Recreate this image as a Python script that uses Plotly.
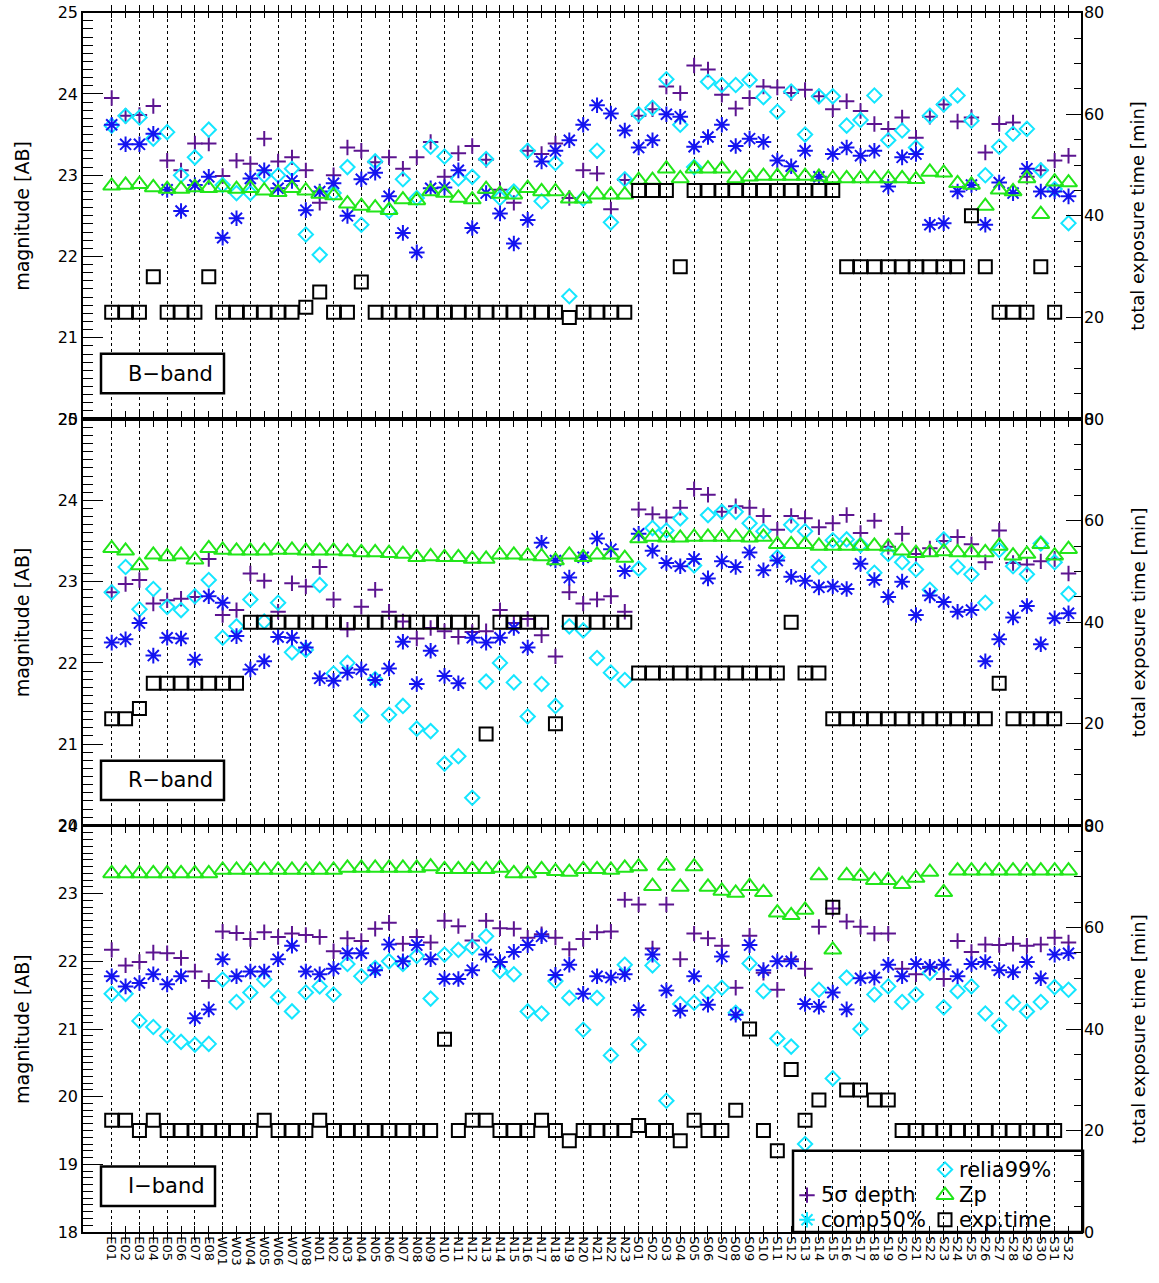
import plotly.graph_objects as go

# ---------------- data ----------------
FIELDS = ["E01", "E02", "E03", "E04", "E05", "E06", "E07", "E08",
          "W01", "W03", "W04", "W05", "W06", "W07", "W08",
          "N01", "N02", "N03", "N04", "N05", "N06", "N07", "N08", "N09", "N10",
          "N11", "N12", "N13", "N14", "N15", "N16", "N17", "N18", "N19", "N20",
          "N21", "N22", "N23",
          "S01", "S02", "S03", "S04", "S05", "S06", "S07", "S08", "S09", "S10",
          "S11", "S12", "S13", "S14", "S15", "S16", "S17", "S18", "S19", "S20",
          "S21", "S22", "S23", "S24", "S25", "S26", "S27", "S28", "S29", "S30",
          "S31", "S32"]

# B-band
B_DEPTH = [23.95, 23.73, 23.74, 23.85, 23.18, 23.06, 23.39, 23.39, 22.99, 23.18, 23.14, 23.45, 23.17, 23.22, 23.06, 22.66, 23.00, 23.34, 23.30, 23.16, 23.22, 23.08, 23.22,
           23.41, 22.98, 23.27, 23.36, 23.19, 22.82, 22.66, 23.30, 23.26, 23.39, 22.72, 23.06, 23.02, 22.58, 22.94, 23.73, 23.81, 24.09, 24.01, 24.35, 24.30, 23.99, 23.82, 23.95,
           24.09, 24.08, 24.01, 24.05, 23.97, 23.81, 23.91, 23.79, 23.63, 23.57, 23.71, 23.46, 23.72, 23.87, 23.66, 23.71, 23.28, 23.63, 23.65, 22.98, 23.06, 23.18, 23.24]
B_COMP = [23.62, 23.38, 23.38, 23.51, 22.82, 22.56, 22.88, 22.98, 22.23, 22.47, 22.96, 23.06, 22.84, 22.93, 22.57, 22.80, 22.90, 22.50, 22.95, 23.03, 22.74, 22.29, 22.05,
          22.84, 22.85, 23.06, 22.35, 22.78, 22.53, 22.16, 22.45, 23.17, 23.30, 23.43, 23.62, 23.86, 23.76, 23.55, 23.34, 23.43, 23.75, 23.72, 23.35, 23.47, 23.62, 23.36, 23.45,
          23.41, 23.18, 23.11, 23.30, 22.98, 23.26, 23.34, 23.24, 23.30, 22.86, 23.22, 23.26, 22.39, 22.41, 22.80, 22.88, 22.39, 22.91, 22.78, 23.08, 22.80, 22.80, 22.74]
B_RELIA = [23.61, 23.73, 23.71, 23.45, 23.53, 23.00, 23.22, 23.56, 22.88, 22.78, 22.78, 23.00, 23.00, 23.08, 22.27, 22.02, 22.78, 23.10, 22.39, 23.17, 22.56, 22.95, 22.72,
           23.35, 23.23, 22.96, 22.98, 23.20, 22.72, 22.80, 23.30, 22.68, 23.15, 21.51, 22.71, 23.30, 22.42, 22.95, 23.75, 23.83, 24.18, 23.62, 23.10, 24.15, 24.11, 24.11, 24.17,
           23.96, 23.78, 24.03, 23.50, 23.97, 23.97, 23.61, 23.68, 23.98, 23.43, 23.55, 23.34, 23.73, 23.87, 23.98, 23.67, 23.00, 23.35, 23.51, 23.57, 23.06, 22.83, 22.41]
B_ZP = [22.87, 22.88, 22.89, 22.85, 22.83, 22.83, 22.85, 22.84, 22.85, 22.83, 22.84, 22.81, 22.79, 22.84, 22.81, 22.77, 22.75, 22.65, 22.62, 22.60, 22.57, 22.70, 22.69,
        22.80, 22.78, 22.72, 22.70, 22.83, 22.77, 22.76, 22.84, 22.80, 22.80, 22.71, 22.71, 22.76, 22.76, 22.76, 22.94, 22.94, 23.08, 22.96, 23.08, 23.08, 23.08, 22.96, 22.98,
        22.99, 22.99, 22.99, 22.99, 22.98, 22.96, 22.96, 22.96, 22.96, 22.96, 22.96, 22.95, 23.04, 23.03, 22.90, 22.88, 22.62, 22.82, 22.80, 22.96, 22.52, 22.92, 22.91]
B_EXP = [21, 21, 21, 28, 21, 21, 21, 28, 21, 21, 21, 21, 21, 21, 22, 25, 21, 21, 27, 21, 21, 21, 21,
         21, 21, 21, 21, 21, 21, 21, 21, 21, 21, 20, 21, 21, 21, 21, 45, 45, 45, 30, 45, 45, 45, 45, 45,
         45, 45, 45, 45, 45, 45, 30, 30, 30, 30, 30, 30, 30, 30, 30, 40, 30, 21, 21, 21, 30, 21, None]

# R-band
R_DEPTH = [22.87, 22.97, 23.02, 22.73, 22.77, 22.79, 22.81, 23.28, 22.59, 22.65, 23.10, 23.01, 22.63, 22.98, 22.94, 23.18, 22.78, 22.41, 22.69, 22.90, 22.63, 22.51, 22.30,
           22.43, 22.39, 22.32, 22.38, 22.39, 22.65, 22.49, 22.54, 22.34, 22.08, 22.87, 22.73, 22.78, 22.82, 22.63, 23.89, 23.83, 23.79, 23.91, 24.14, 24.07, 23.86, 23.93, 23.91,
           23.81, 23.64, 23.81, 23.78, 23.67, 23.72, 23.82, 23.60, 23.75, 23.43, 23.59, 23.34, 23.41, 23.50, 23.55, 23.46, 23.24, 23.63, 23.23, 23.21, 23.25, 23.28, 23.10]
R_COMP = [22.25, 22.29, 22.49, 22.09, 22.31, 22.30, 22.04, 22.82, 22.74, 22.33, 21.92, 22.02, 22.32, 22.31, 22.19, 21.81, 21.78, 21.88, 21.92, 21.79, 21.93, 22.26, 21.74,
          22.15, 21.84, 21.75, 22.31, 22.25, 22.31, 22.43, 22.19, 23.48, 23.26, 23.05, 23.30, 23.53, 23.40, 23.13, 23.59, 23.38, 23.23, 23.19, 23.28, 23.04, 23.25, 23.18, 23.36,
          23.14, 23.26, 23.06, 23.01, 22.93, 22.94, 22.91, 23.22, 23.02, 22.81, 23.00, 22.59, 22.83, 22.75, 22.63, 22.65, 22.02, 22.29, 22.56, 22.70, 22.23, 22.55, 22.61]
R_RELIA = [22.87, 23.18, 22.66, 22.91, 22.69, 22.65, 22.82, 23.02, 22.31, 22.45, 22.78, 22.51, 22.74, 22.13, 22.16, 22.96, 21.87, 22.00, 21.35, 21.80, 21.36, 21.47, 21.19,
           21.16, 20.76, 20.85, 20.34, 21.77, 22.00, 21.76, 21.34, 21.74, 21.47, 22.45, 22.40, 22.06, 21.88, 21.79, 23.16, 23.66, 23.63, 23.78, 23.20, 23.82, 23.86, 23.86, 23.72,
           23.62, 23.30, 23.70, 23.62, 23.18, 23.51, 23.52, 23.45, 23.11, 23.34, 23.24, 23.15, 22.90, 23.52, 23.18, 23.09, 22.74, 23.39, 23.19, 23.09, 23.47, 23.24, 22.85]
R_ZP = [23.41, 23.38, 23.20, 23.33, 23.31, 23.33, 23.27, 23.41, 23.39, 23.38, 23.38, 23.38, 23.39, 23.39, 23.38, 23.38, 23.38, 23.37, 23.36, 23.36, 23.35, 23.34, 23.30,
        23.31, 23.30, 23.30, 23.28, 23.28, 23.33, 23.33, 23.32, 23.31, 23.26, 23.33, 23.30, 23.33, 23.33, 23.29, 23.53, 23.55, 23.54, 23.54, 23.55, 23.55, 23.55, 23.55, 23.54,
        23.55, 23.46, 23.46, 23.46, 23.44, 23.44, 23.44, 23.44, 23.44, 23.43, 23.38, 23.35, 23.36, 23.37, 23.36, 23.36, 23.36, 23.44, 23.32, 23.34, 23.46, 23.32, 23.40]
R_EXP = [21, 21, 23, 28, 28, 28, 28, 28, 28, 28, 40, 40, 40, 40, 40, 40, 40, 40, 40, 40, 40, 40, 40,
         40, 40, 40, 40, 18, 40, 40, 40, 40, 20, 40, 40, 40, 40, 40, 30, 30, 30, 30, 30, 30, 30, 30, 30,
         30, 30, 40, 30, 30, 21, 21, 21, 21, 21, 21, 21, 21, 21, 21, 21, 21, 28, 21, 21, 21, 21, None]

# I-band
I_DEPTH = [22.17, 21.94, 21.99, 22.13, 22.12, 22.05, 21.85, 21.71, 22.44, 22.42, 22.33, 22.43, 22.36, 22.41, 22.39, 22.36, 22.15, 22.34, 22.30, 22.48, 22.57, 22.26, 22.36,
           22.28, 22.60, 22.52, 22.31, 22.60, 22.49, 22.48, 22.35, 22.40, 22.35, 22.18, 22.33, 22.43, 22.44, 22.91, 22.84, 22.19, 22.84, 22.03, 22.41, 22.34, 22.23, 21.61, 22.38,
           21.83, 21.58, 22.03, 21.89, 22.51, 22.78, 22.59, 22.51, 22.41, 22.41, 21.89, 21.81, 21.90, 21.74, 22.30, 22.14, 22.25, 22.24, 22.26, 22.23, 22.25, 22.35, 22.28]
I_COMP = [21.78, 21.63, 21.68, 21.81, 21.66, 21.78, 21.16, 21.29, 22.03, 21.78, 21.85, 21.85, 22.03, 22.23, 21.85, 21.81, 21.89, 22.12, 22.12, 21.87, 22.25, 22.00, 22.24,
          22.03, 21.74, 21.74, 21.87, 22.10, 21.99, 22.14, 22.24, 22.37, 21.80, 21.95, 21.52, 21.78, 21.76, 21.81, 21.28, 22.10, 21.57, 21.27, 21.78, 21.36, 22.07, 21.21, 22.24,
          21.87, 22.00, 22.00, 21.37, 21.33, 21.54, 21.29, 21.75, 21.76, 21.95, 21.78, 21.96, 21.92, 21.95, 21.78, 21.96, 21.99, 21.87, 21.84, 21.99, 21.75, 22.10, 22.12]
I_RELIA = [21.52, 21.52, 21.12, 21.03, 20.90, 20.81, 20.77, 20.78, 21.73, 21.40, 21.54, 21.73, 21.47, 21.26, 21.54, 21.63, 21.51, 21.96, 21.78, 21.90, 22.00, 21.96, 22.08,
           21.45, 22.10, 22.17, 22.21, 22.37, 21.86, 21.81, 21.26, 21.23, 21.71, 21.46, 20.99, 21.46, 20.61, 21.95, 20.77, 21.94, 19.94, 21.37, 21.39, 21.54, 21.61, 21.24, 21.97,
           21.56, 20.86, 20.74, 19.30, 21.58, 20.27, 21.76, 21.00, 21.51, 21.63, 21.40, 21.51, 21.83, 21.32, 21.56, 21.63, 21.23, 21.05, 21.39, 21.26, 21.40, 21.62, 21.58]
I_ZP = [23.30, 23.30, 23.30, 23.30, 23.30, 23.30, 23.30, 23.30, 23.35, 23.35, 23.35, 23.35, 23.35, 23.35, 23.35, 23.35, 23.35, 23.38, 23.38, 23.38, 23.38, 23.38, 23.38,
        23.40, 23.36, 23.36, 23.36, 23.36, 23.38, 23.30, 23.30, 23.36, 23.33, 23.32, 23.36, 23.36, 23.35, 23.38, 23.40, 23.11, 23.41, 23.10, 23.40, 23.10, 23.04, 23.01, 23.11,
        23.02, 22.72, 22.68, 22.76, 23.27, 22.17, 23.27, 23.26, 23.20, 23.20, 23.14, 23.23, 23.32, 23.02, 23.34, 23.34, 23.34, 23.34, 23.34, 23.34, 23.34, 23.34, 23.34]
I_EXP = [22, 22, 20, 22, 20, 20, 20, 20, 20, 20, 20, 22, 20, 20, 20, 22, 20, 20, 20, 20, 20, 20, 20,
         20, 38, 20, 22, 22, 20, 20, 20, 22, 20, 18, 20, 20, 20, 20, 21, 20, 20, 18, 22, 20, 20, 24, 40,
         20, 16, 32, 22, 26, 64, 28, 28, 26, 26, 20, 20, 20, 20, 20, 20, 20, 20, 20, 20, 20, 20, None]

BANDS = ["B−band", "R−band", "I−band"]
MAG_RANGES = [[20, 25], [20, 25], [18, 24]]
EXP_RANGE = [0, 80]
LEGEND_LABELS = ["relia99%", "5σ depth", "Zp", "comp50%", "exp.time"]

# ---------------- style / layout ----------------
W, H = 1159, 1283
FONT = "DejaVu Sans"
PURPLE = "#5c1490"
BLUE = "#1414f0"
CYAN = "#14e6ff"
GREEN = "#22e61a"
BLACK = "#000000"

X_LEFT, X_RIGHT = 83, 1081
PANEL_PX = [(3.7, 416.2), (416.4, 828.6), (829.3, 1241.4)]
XRANGE = [-2.07, 69.9]


def px(x):
    return x / W


def py(y):
    return 1 - y / H


idx = list(range(len(FIELDS)))
data = [
    (B_DEPTH, B_COMP, B_RELIA, B_ZP, B_EXP),
    (R_DEPTH, R_COMP, R_RELIA, R_ZP, R_EXP),
    (I_DEPTH, I_COMP, I_RELIA, I_ZP, I_EXP),
]

fig = go.Figure()

for p, (dep, comp, rel, zp, exp) in enumerate(data):
    xa = "x" if p == 0 else f"x{p + 1}"
    ym = "y" if p == 0 else f"y{2 * p + 1}"
    ye = f"y{2 * p + 2}"
    fig.add_trace(go.Scatter(x=idx, y=dep, mode="markers", xaxis=xa, yaxis=ym, showlegend=False,
                             marker=dict(symbol="cross-thin", size=11, color=PURPLE,
                                         line=dict(color=PURPLE, width=2))))
    fig.add_trace(go.Scatter(x=idx, y=rel, mode="markers", xaxis=xa, yaxis=ym, showlegend=False,
                             marker=dict(symbol="diamond-open", size=11, color=CYAN,
                                         line=dict(color=CYAN, width=2))))
    fig.add_trace(go.Scatter(x=idx, y=comp, mode="markers", xaxis=xa, yaxis=ym, showlegend=False,
                             marker=dict(symbol="asterisk", size=13, color=BLUE,
                                         line=dict(color=BLUE, width=2))))
    fig.add_trace(go.Scatter(x=idx, y=zp, mode="markers", xaxis=xa, yaxis=ym, showlegend=False,
                             marker=dict(symbol="triangle-up-open", size=15, color=GREEN,
                                         line=dict(color=GREEN, width=2))))
    fig.add_trace(go.Scatter(x=idx, y=exp, mode="markers", xaxis=xa, yaxis=ye, showlegend=False,
                             marker=dict(symbol="square-open", size=13, color=BLACK,
                                         line=dict(color=BLACK, width=2))))
    # empty trace to register the grid-overlay x axis
    fig.add_trace(go.Scatter(x=[], y=[], xaxis=f"x{p + 4}", yaxis=ym, showlegend=False))

axis_common = dict(showline=True, linecolor=BLACK, linewidth=1.5, ticks="inside",
                   tickcolor=BLACK, zeroline=False, showgrid=False,
                   tickfont=dict(family=FONT, size=16, color=BLACK))

layout = dict(width=W, height=H, margin=dict(l=0, r=0, t=0, b=0),
              paper_bgcolor="white", plot_bgcolor="rgba(0,0,0,0)", showlegend=False)

evens = [i for i in idx if i % 2 == 0]
for p in range(3):
    top, bot = PANEL_PX[p]
    dom = [py(bot), py(top)]
    xname = "xaxis" if p == 0 else f"xaxis{p + 1}"
    yname = "yaxis" if p == 0 else f"yaxis{2 * p + 1}"
    ename = f"yaxis{2 * p + 2}"
    ym = "y" if p == 0 else f"y{2 * p + 1}"
    xa = "x" if p == 0 else f"x{p + 1}"
    layout[xname] = dict(axis_common, domain=[px(X_LEFT), px(X_RIGHT)], range=XRANGE,
                         anchor=ym, tickmode="array", tickvals=idx, ticktext=FIELDS,
                         ticklen=6, mirror="allticks", showticklabels=(p == 2),
                         tickangle=90, tickfont=dict(family=FONT, size=13, color=BLACK))
    layout[f"xaxis{p + 4}"] = dict(overlaying=xa, anchor=ym, range=XRANGE, tickmode="array",
                                   tickvals=evens, showticklabels=False, ticks="",
                                   showgrid=True, gridcolor=BLACK, gridwidth=1,
                                   griddash="3px,3px", showline=False, zeroline=False)
    layout[yname] = dict(axis_common, domain=dom, range=MAG_RANGES[p], anchor=xa,
                         dtick=1, tick0=0, ticklen=20,
                         minor=dict(dtick=0.1, ticks="inside", ticklen=10, tickcolor=BLACK))
    layout[ename] = dict(axis_common, overlaying=ym, side="right", anchor=xa,
                         range=EXP_RANGE, dtick=20, tick0=0, ticklen=15, ticklabelstandoff=-2,
                         minor=dict(dtick=5, ticks="inside", ticklen=7, tickcolor=BLACK))

fig.update_layout(**layout)

# axis titles and band boxes
annotations = []
shapes = []
box_px = [(101, 350, 224, 390), (101, 763, 224, 803), (101, 1175, 215, 1215)]
for p in range(3):
    top, bot = PANEL_PX[p]
    cy = (top + bot) / 2
    annotations.append(dict(x=px(22), y=py(cy), xref="paper", yref="paper", text="magnitude [AB]",
                            xanchor="center", yanchor="middle",
                            textangle=-90, showarrow=False, font=dict(family=FONT, size=19, color=BLACK)))
    annotations.append(dict(x=px(1138), y=py(cy), xref="paper", yref="paper",
                            text="total exposure time [min]", textangle=-90, showarrow=False,
                            xanchor="center", yanchor="middle",
                            font=dict(family=FONT, size=18, color=BLACK)))
    x0, y0, x1, y1 = box_px[p]
    shapes.append(dict(type="rect", xref="paper", yref="paper", x0=px(x0), x1=px(x1),
                       y0=py(y1), y1=py(y0), line=dict(color=BLACK, width=2.5),
                       fillcolor="white", layer="above"))
    annotations.append(dict(x=px((x0 + x1) / 2 + 8), y=py((y0 + y1) / 2), xref="paper", yref="paper",
                            text=BANDS[p], showarrow=False, xanchor="center", yanchor="middle",
                            font=dict(family=FONT, size=21, color=BLACK)))

# legend box (manual)
shapes.append(dict(type="rect", xref="paper", yref="paper", x0=px(793), x1=px(1083),
                   y0=py(1241.4), y1=py(1159), line=dict(color=BLACK, width=2.5),
                   fillcolor="rgba(0,0,0,0)", layer="above"))
leg_pos = [(957, 1178), (819, 1204), (957, 1204), (819, 1229), (957, 1229)]
for (lx, ly), lab in zip(leg_pos, LEGEND_LABELS):
    annotations.append(dict(x=px(lx), y=py(ly), xref="paper", yref="paper", text=lab,
                            xanchor="left", yanchor="middle", showarrow=False,
                            font=dict(family=FONT, size=21, color=BLACK)))

# legend symbols on a hidden pixel-space axis
leg_sym = [("diamond-open", CYAN, 11, 945, 1178), ("cross-thin", PURPLE, 11, 807, 1204),
           ("triangle-up-open", GREEN, 15, 945, 1204), ("asterisk", CYAN, 13, 807, 1229),
           ("square-open", BLACK, 13, 945, 1229)]
for sym, col, sz, lx, ly in leg_sym:
    fig.add_trace(go.Scatter(x=[lx], y=[ly], mode="markers", xaxis="x7", yaxis="y7", showlegend=False,
                             marker=dict(symbol=sym, size=sz, color=col, line=dict(color=col, width=2))))
fig.update_layout(xaxis7=dict(domain=[0, 1], range=[0, W], visible=False, anchor="y7"),
                  yaxis7=dict(domain=[0, 1], range=[H, 0], visible=False, anchor="x7"),
                  annotations=annotations, shapes=shapes)

fig.write_html("out.html")
